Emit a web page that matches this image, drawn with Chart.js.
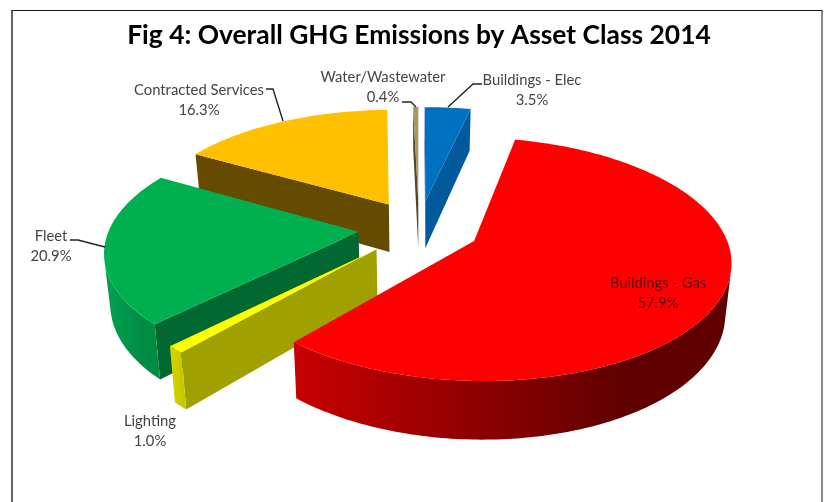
<!DOCTYPE html>
<html>
<head>
<meta charset="utf-8">
<title>Fig 4</title>
<script src="https://cdn.jsdelivr.net/npm/chart.js@4"></script>
<style>
  html, body { margin: 0; padding: 0; background: #fff; overflow: hidden; }
  #frame {
    position: absolute; left: 11px; top: 10px; width: 808px; height: 492px;
    border-top: 1px solid #111; border-left: 2px solid #666; border-right: 2px solid #888;
  }
  /* the reference is a soft, upscaled screenshot */
  canvas { position: absolute; left: 0; top: 0; filter: blur(0.4px); }
</style>
</head>
<body>
<div id="frame"></div>
<canvas id="myChart" width="827" height="502"></canvas>
<script>
const categories = ["Buildings - Elec", "Buildings - Gas", "Lighting", "Fleet", "Contracted Services", "Water/Wastewater"];
const shares = [3.5, 57.9, 1.0, 20.9, 16.3, 0.4];
const shareLabels = ["3.5%", "57.9%", "1.0%", "20.9%", "16.3%", "0.4%"];

// face colours, same order as categories
const topColors = ["#0070C0", "#FF0000", "#FFFF00", "#00B050", "#FFC000", "#A39A66"];
const sideColors = ["#005A9C", "#A00000", "#A0A000", "#006830", "#654B00", "#4E4828"];
const wallLeft = ["#005A9C", "#C80000", "#D4D400", "#00A04E", "#A07800", "#4E4828"];
const wallRight = ["#005A9C", "#600000", "#C8C800", "#008C42", "#806000", "#4E4828"];

// back to front
const drawOrder = [5, 0, 4, 3, 2, 1];

// camera used to lay the pie down
const CX = 419, CY = 228;
const RADIUS = 254, DEPTH = 49, EXPLODE = 62;
const TILT = 0.4534, PERSPECTIVE = 0.000583, WIDEN = 0.98, BOTTOM_SHRINK = 0.98;

// label text centre, and leader line points
const labelSpots = [
  { x: 532, y: 80, line: [[482, 84], [473, 84], [448, 107]] },
  { x: 658, y: 283, color: "#5c0808" },
  { x: 150, y: 421 },
  { x: 51, y: 236, line: [[70, 240], [78, 240], [105, 247]] },
  { x: 199, y: 90, line: [[266, 89], [273, 89], [283, 121]] },
  { x: 383, y: 77, line: [[402, 102], [411, 102], [416, 107]] },
];

function project(u, v, bottom) {
  const s = 1 / (1 - PERSPECTIVE * v);
  return {
    x: CX + u * s * WIDEN * (bottom ? BOTTOM_SHRINK : 1),
    y: CY + TILT * v * s + (bottom ? DEPTH * s : 0),
  };
}

function area(pts) {
  let sum = 0;
  pts.forEach((p, i) => {
    const q = pts[(i + 1) % pts.length];
    sum += p.x * q.y - q.x * p.y;
  });
  return sum;
}

function fillPoly(ctx, pts, style) {
  ctx.beginPath();
  pts.forEach((p, i) => (i ? ctx.lineTo(p.x, p.y) : ctx.moveTo(p.x, p.y)));
  ctx.closePath();
  ctx.fillStyle = style;
  ctx.fill();
}

function drawSlice(ctx, arc, i) {
  const { startAngle, endAngle } = arc.getProps(["startAngle", "endAngle"], true);
  const mid = (startAngle + endAngle) / 2;
  const u0 = arc.options.offset * Math.cos(mid);
  const v0 = arc.options.offset * Math.sin(mid);
  const rim = (a, bottom) => project(u0 + RADIUS * Math.cos(a), v0 + RADIUS * Math.sin(a), bottom);
  const apexT = project(u0, v0, false);
  const apexB = project(u0, v0, true);

  // cut faces
  const startFace = [apexT, rim(startAngle, false), rim(startAngle, true), apexB];
  const endFace = [apexT, rim(endAngle, false), rim(endAngle, true), apexB];
  if (area(startFace) < 0) fillPoly(ctx, startFace, sideColors[i]);
  if (area(endFace) > 0) fillPoly(ctx, endFace, sideColors[i]);

  // outer wall, only the stretch facing the camera
  const steps = Math.max(4, Math.ceil((endAngle - startAngle) * 180 / Math.PI));
  const da = (endAngle - startAngle) / steps;
  const upper = [], lower = [];
  for (let k = 0; k < steps; k++) {
    const a = startAngle + k * da, b = a + da;
    const quad = [rim(a, false), rim(b, false), rim(b, true), rim(a, true)];
    if (area(quad) < 0) {
      if (!upper.length) { upper.push(quad[0]); lower.push(quad[3]); }
      upper.push(quad[1]);
      lower.push(quad[2]);
    }
  }
  if (upper.length) {
    const wall = upper.concat(lower.reverse());
    const xs = wall.map((p) => p.x);
    const grad = ctx.createLinearGradient(Math.min(...xs), 0, Math.max(...xs), 0);
    grad.addColorStop(0, wallLeft[i]);
    grad.addColorStop(0.75, wallRight[i]);
    grad.addColorStop(1, wallRight[i]);
    fillPoly(ctx, wall, grad);
  }

  // top face
  const top = [apexT];
  for (let k = 0; k <= steps; k++) top.push(rim(startAngle + k * da, false));
  fillPoly(ctx, top, arc.options.backgroundColor);
}

const pie3d = {
  id: "pie3d",
  beforeDatasetsDraw(chart) {
    const ctx = chart.ctx;
    const arcs = chart.getDatasetMeta(0).data;
    ctx.save();
    drawOrder.forEach((i) => drawSlice(ctx, arcs[i], i));
    ctx.restore();
    return false;
  },
  afterDraw(chart) {
    const ctx = chart.ctx;
    ctx.save();
    ctx.textAlign = "center";
    ctx.textBaseline = "middle";
    ctx.font = "14.8px Lato";
    labelSpots.forEach((spot, i) => {
      if (spot.line) {
        ctx.beginPath();
        spot.line.forEach(([x, y], k) => (k ? ctx.lineTo(x, y) : ctx.moveTo(x, y)));
        ctx.strokeStyle = "#222";
        ctx.lineWidth = 1.4;
        ctx.stroke();
      }
      ctx.fillStyle = spot.color || "#444";
      ctx.fillText(categories[i], spot.x, spot.y);
      ctx.fillText(shareLabels[i], spot.x, spot.y + 20);
    });
    ctx.restore();
  },
};

const myChart = new Chart(document.getElementById("myChart").getContext("2d"), {
  type: "pie",
  data: {
    labels: categories,
    datasets: [{ data: shares, backgroundColor: topColors, borderWidth: 0, offset: EXPLODE }],
  },
  options: {
    responsive: false,
    animation: false,
    layout: { padding: { left: 11 } },
    plugins: {
      legend: { display: false },
      tooltip: { enabled: false },
      title: {
        display: true,
        text: "Fig 4: Overall GHG Emissions by Asset Class 2014",
        color: "#000",
        font: { family: "Lato", size: 26.4, weight: "bold" },
        padding: { top: 20, bottom: 10 },
      },
    },
  },
  plugins: [pie3d],
});
</script>
</body>
</html>
